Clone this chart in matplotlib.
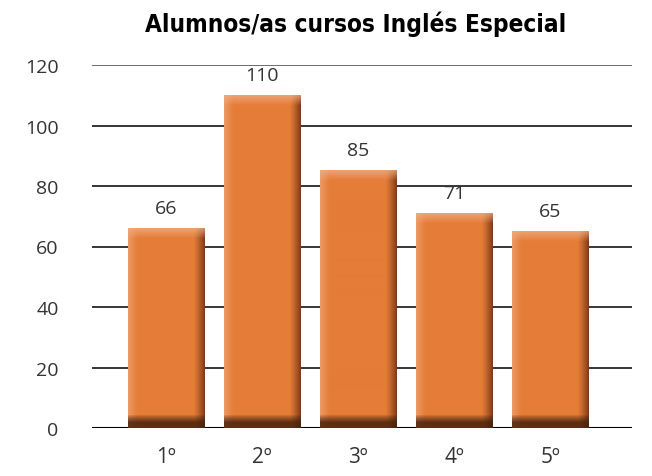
import numpy as np
import matplotlib
matplotlib.use("Agg")
import matplotlib.pyplot as plt

# Data
cursos = ["1º", "2º", "3º", "4º", "5º"]
alumnos = [66, 110, 85, 71, 65]
y_ticks = [0, 20, 40, 60, 80, 100, 120]

base = np.array([229, 124, 56]) / 255.0
light = np.array([240, 178, 135]) / 255.0
dark = np.array([70, 32, 10]) / 255.0


def bevel_image(h_px, w_px):
    # orange bar with lighter left/top edges and dark right/bottom edges
    img = np.tile(base, (h_px, w_px, 1))
    xx = np.arange(w_px)[None, :, None]
    yy = np.arange(h_px)[:, None, None]  # row 0 = top
    left = np.clip(1 - xx / 9.0, 0, 1) * 0.55
    img = img * (1 - left) + light * left
    right = np.clip((xx - (w_px - 12)) / 12.0, 0, 1) ** 1.3 * 0.75
    img = img * (1 - right) + dark * right
    top = np.clip(1 - yy / 10.0, 0, 1) * 0.7
    img = img * (1 - top) + light * top
    bot = np.clip((yy - (h_px - 14)) / 8.0, 0, 1) ** 0.8 * 0.85
    img = img * (1 - bot) + dark * bot
    return np.clip(img, 0, 1)


fig = plt.figure(figsize=(6.52, 4.77), dpi=100)
ax = fig.add_axes([92 / 652, 1 - 429 / 477, 540 / 652, 363 / 477])

px_per_unit = 363 / 120.0
bar_w = 0.8
for i, v in enumerate(alumnos):
    h_px = max(int(round(v * px_per_unit)), 20)
    img = bevel_image(h_px, 77)
    ax.imshow(img, extent=(i - bar_w / 2, i + bar_w / 2, 0, v),
              aspect="auto", interpolation="bilinear", zorder=3)
    ax.text(i, v + 3.8, str(v), ha="center", va="bottom",
            fontsize=14, color="#333333", family="Open Sans", zorder=4)

for t in y_ticks:
    if t == 120:
        ax.axhline(t, color="#555555", lw=1.2, zorder=1)
    else:
        ax.axhline(t, color="black", lw=1.1 if t else 1.5, zorder=1)

ax.set_xlim(-0.77, 4.85)
ax.set_ylim(0, 120)
ax.set_yticks(y_ticks)
ax.set_xticks(range(len(cursos)))
ax.set_xticklabels(cursos)
for s in ax.spines.values():
    s.set_visible(False)
ax.tick_params(length=0)
ax.tick_params(axis="y", pad=24, labelsize=14, labelcolor="#333333")
ax.tick_params(axis="x", pad=13, labelsize=15, labelcolor="#333333")
for lab in ax.get_xticklabels() + ax.get_yticklabels():
    lab.set_family("Open Sans")

fig.text(356 / 652, 1 - 24 / 477, "Alumnos/as cursos Inglés Especial",
         ha="center", va="center", fontsize=17.5, fontweight="bold",
         family="DejaVu Sans", fontstretch="condensed")

fig.savefig("out.png", dpi=100)
